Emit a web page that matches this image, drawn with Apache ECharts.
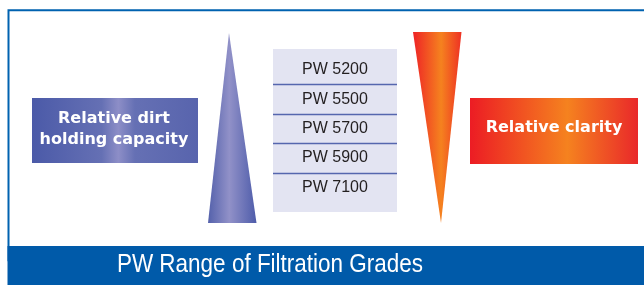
<!DOCTYPE html>
<html>
<head>
<meta charset="utf-8">
<script src="https://cdn.jsdelivr.net/npm/echarts@6/dist/echarts.min.js"></script>
<style>
  html, body { margin: 0; padding: 0; background: #fff; }
  #chart-container { width: 644px; height: 285px; }
</style>
</head>
<body>
<div id="chart-container"></div>
<script>
// filtration grades, coarse to fine
let grades = ['PW 5200', 'PW 5500', 'PW 5700', 'PW 5900', 'PW 7100'];
let leftLabel = 'Relative dirt\nholding capacity';
let rightLabel = 'Relative clarity';
let title = 'PW Range of Filtration Grades';

function init() {
  let grad = (stops) => new echarts.graphic.LinearGradient(0, 0, 1, 0,
    stops.map(s => ({ offset: s[0], color: s[1] })));

  let blueFill = [[0, '#4b5aa8'], [0.42, '#6570b4'], [0.52, '#8d8ec7'], [0.62, '#6570b4'], [1, '#5864ad']];
  let redFill = [[0, '#ec1c24'], [0.58, '#f5821f'], [1, '#e9282a']];

  let graphic = [
    // frame
    {
      type: 'rect',
      shape: { x: 8.5, y: 10.2, width: 700, height: 250 },
      style: { fill: 'none', stroke: '#0062b0', lineWidth: 2 }
    },
    {
      type: 'rect',
      shape: { x: 7.5, y: 246, width: 640, height: 40 },
      style: { fill: '#005aa9' }
    },
    {
      // condensed title: no narrow font installed, so squeeze it
      type: 'text',
      x: 270, y: 265, scaleX: 0.865,
      style: {
        text: title, x: 0, y: 0, align: 'center', verticalAlign: 'middle',
        font: '26px "Liberation Sans", Arial, sans-serif', fill: '#fff'
      }
    },
    // left side
    {
      type: 'rect',
      shape: { x: 32, y: 98, width: 166, height: 65 },
      style: { fill: grad(blueFill) }
    },
    {
      type: 'text',
      style: {
        text: leftLabel, x: 114, y: 129, align: 'center', verticalAlign: 'middle',
        font: 'bold 16px "DejaVu Sans", sans-serif', lineHeight: 21, fill: '#fff'
      }
    },
    {
      type: 'polygon',
      shape: { points: [[229, 33], [256.5, 223], [208, 223]] },
      style: { fill: grad([[0, '#5461ab'], [0.44, '#9191c8'], [1, '#4e5caa']]) }
    },
    // table background
    {
      type: 'rect',
      shape: { x: 273, y: 49, width: 124, height: 163 },
      style: { fill: '#e3e4f2' }
    },
    // right side
    {
      type: 'polygon',
      shape: { points: [[413, 32], [461.5, 32], [441, 223]] },
      style: { fill: grad([[0, '#ee2326'], [0.58, '#f5821f'], [1, '#ee3124']]) }
    },
    {
      type: 'rect',
      shape: { x: 470, y: 98, width: 168, height: 66 },
      style: { fill: grad(redFill) }
    },
    {
      type: 'text',
      style: {
        text: rightLabel, x: 554, y: 128, align: 'center', verticalAlign: 'middle',
        font: 'bold 16px "DejaVu Sans", sans-serif', fill: '#fff'
      }
    }
  ];

  let option = {
    animation: false,
    graphic,
    grid: { left: 273, top: 55, width: 124, height: 147 },
    xAxis: { type: 'value', min: 0, max: 1, show: false },
    yAxis: { type: 'category', data: grades, inverse: true, show: false },
    series: [
      {
        type: 'custom',
        data: grades.map((g, i) => [0.5, i]),
        encode: { x: 0, y: 1 },
        renderItem: function (params, api) {
          let idx = api.value(1);
          let c = api.coord([0.5, idx]);
          let h = api.size([0, 1])[1];
          let cs = params.coordSys;
          let children = [{
            type: 'text',
            style: {
              text: grades[idx], x: c[0], y: c[1], align: 'center', verticalAlign: 'middle',
              font: '16px "Liberation Sans", Arial, sans-serif', fill: '#231f20'
            }
          }];
          if (idx > 0) {
            let yTop = Math.round(c[1] - h / 2) + 0.5;
            children.push({
              type: 'line',
              shape: { x1: cs.x, y1: yTop, x2: cs.x + cs.width, y2: yTop },
              style: { stroke: '#5566ae', lineWidth: 1.5 }
            });
          }
          return { type: 'group', children };
        }
      }
    ]
  };

  var myChart = echarts.init(document.getElementById('chart-container'));
  myChart.setOption(option);
  window.addEventListener('resize', myChart.resize);
}
init();
</script>
</body>
</html>
